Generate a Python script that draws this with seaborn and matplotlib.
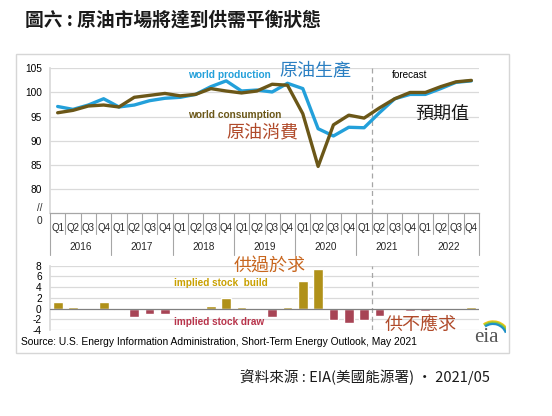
import matplotlib
matplotlib.use("Agg")
import matplotlib.pyplot as plt
import matplotlib.transforms as mtransforms
from matplotlib.patches import Rectangle, Arc
import seaborn as sns
import numpy as np

# quarterly data, 2016Q1 .. 2022Q4 (million barrels per day)
years = ["2016", "2017", "2018", "2019", "2020", "2021", "2022"]
quarters = ["Q1", "Q2", "Q3", "Q4"]
production = [97.1, 96.5, 97.4, 98.7, 97.0, 97.4, 98.3, 98.8,
              99.0, 99.6, 101.2, 102.4, 100.3, 100.5, 100.1, 101.9,
              100.8, 92.5, 91.0, 92.8, 92.7, 95.8, 98.7, 99.6,
              99.6, 100.8, 102.1, 102.4]
consumption = [95.8, 96.3, 97.2, 97.4, 97.0, 99.0, 99.4, 99.8,
               99.3, 99.6, 100.8, 100.3, 99.9, 100.3, 101.7, 101.5,
               95.6, 84.7, 93.3, 95.3, 94.7, 96.8, 98.7, 100.0,
               100.0, 101.2, 102.2, 102.5]
stock_change = [1.2, 0.2, 0.0, 1.2, -0.2, -1.5, -1.1, -1.0,
                -0.3, 0.0, 0.5, 2.0, 0.3, -0.1, -1.6, 0.2,
                5.1, 7.4, -2.2, -2.7, -2.05, -1.4, 0.0, -0.4,
                -0.5, -0.1, 0.0, 0.2]

W, H = 552, 416
sns.set_theme(style="white")
plt.rcParams['font.family'] = ['Liberation Sans', 'Noto Sans CJK TC', 'DejaVu Sans']
CJK = ['Noto Sans CJK TC', 'DejaVu Sans']

BLUE = "#23A0DA"
OLIVE = "#6B5718"
GOLD = "#C9A000"
RED = "#B8334A"
GRID = "#DADADA"
SEP = "#A6A6A6"


def fx(x):
    return x / W


def fy(y):
    return 1 - y / H


fig = plt.figure(figsize=(W / 100, H / 100), dpi=100)
fig.patch.set_facecolor("white")

# outer frame
fig.patches.append(Rectangle((fx(16), fy(353)), fx(509) - fx(16), fy(54) - fy(353),
                             transform=fig.transFigure, fill=False,
                             edgecolor="#D6D6D6", linewidth=1.0))

x_left, x_right = 50, 479
ax1 = fig.add_axes([fx(x_left), fy(213.3), fx(x_right) - fx(x_left), fy(68.3) - fy(213.3)])
ax2 = fig.add_axes([fx(x_left), fy(330), fx(x_right) - fx(x_left), fy(265.7) - fy(330)])

idx = np.arange(len(production))

# ---- top panel: production and consumption
sns.lineplot(x=idx, y=production, color=BLUE, linewidth=2.4, ax=ax1)
sns.lineplot(x=idx, y=consumption, color=OLIVE, linewidth=2.4, ax=ax1)
ax1.set_xlim(-0.5, len(idx) - 0.5)
ax1.set_ylim(75, 105)
ax1.set_yticks([80, 85, 90, 95, 100, 105])
ax1.set_yticklabels(["80", "85", "90", "95", "100", "105"])
for v in [80, 85, 90, 95, 100, 105]:
    ax1.axhline(v, color=GRID, linewidth=0.9, zorder=0)
ax1.axvline(20.5, color=SEP, linewidth=0.9, linestyle=(0, (4, 3)), zorder=1)
ax1.set_xticks([])
for s in ["top", "right"]:
    ax1.spines[s].set_visible(False)
ax1.spines["left"].set_color(GRID)
ax1.spines["bottom"].set_color(SEP)
ax1.spines["bottom"].set_linewidth(0.9)
ax1.tick_params(axis="y", length=0, pad=6, labelsize=7.3, labelcolor="black")
# axis break marks
ytr = mtransforms.blended_transform_factory(ax1.transAxes, ax1.transData)
ax1.text(-0.025, 76.0, "//", transform=ytr, ha="center", va="center", fontsize=7)
ax1.text(-0.025, 73.5, "0", transform=ytr, ha="center", va="center", fontsize=7.3, clip_on=False)

# quarter / year labels under the top axis
xtr = mtransforms.blended_transform_factory(ax1.transData, ax1.transAxes)
for i in idx:
    ax1.text(i, -0.10, quarters[i % 4], transform=xtr, ha="center", va="center",
             fontsize=7, clip_on=False)
for k in range(len(idx) + 1):
    b = k - 0.5
    low = -0.29 if k % 4 == 0 else -0.14
    ax1.plot([b, b], [0, low], transform=xtr, color=SEP, linewidth=0.8, clip_on=False)
for j, yr in enumerate(years):
    ax1.text(4 * j + 1.5, -0.232, yr, transform=xtr, ha="center", va="center",
             fontsize=7.2, clip_on=False)

# ---- bottom panel: implied stock change
colors = [GOLD if v >= 0 else RED for v in stock_change]
sns.barplot(x=idx, y=stock_change, hue=idx, palette=colors, dodge=False,
            width=0.64, legend=False, native_scale=True, ax=ax2, zorder=2)
ax2.set_xlim(-0.5, len(idx) - 0.5)
ax2.set_ylim(-4, 8)
ax2.set_yticks([-4, -2, 0, 2, 4, 6, 8])
ax2.set_yticklabels(["-4", "-2", "0", "2", "4", "6", "8"])
for v in [-4, -2, 2, 4, 6, 8]:
    ax2.axhline(v, color=GRID, linewidth=0.9, zorder=0)
ax2.axhline(0, color="#808080", linewidth=0.9, zorder=3)
ax2.axvline(20.5, color=SEP, linewidth=0.9, linestyle=(0, (4, 3)), zorder=1)
ax2.set_xticks([])
ax2.set_xlabel("")
for s in ["top", "right", "bottom"]:
    ax2.spines[s].set_visible(False)
ax2.spines["left"].set_color(GRID)
ax2.tick_params(axis="y", length=0, pad=6, labelsize=7.3, labelcolor="black")

# ---- annotations
fig.text(fx(25), fy(20), "圖六 : 原油市場將達到供需平衡狀態", family=CJK, fontsize=13.5,
         fontweight="bold", ha="left", va="center", color="#1A1A1A")
fig.text(fx(188), fy(75), "world production", fontsize=7.3, fontweight="bold",
         color=BLUE, ha="left", va="center")
fig.text(fx(315), fy(70), "原油生產", family=CJK, fontsize=13, color="#2A7FC2",
         ha="center", va="center")
fig.text(fx(188), fy(115), "world consumption", fontsize=7.3, fontweight="bold",
         color=OLIVE, ha="left", va="center")
fig.text(fx(262), fy(132), "原油消費", family=CJK, fontsize=13, color="#B04A2A",
         ha="center", va="center")
fig.text(fx(392), fy(75), "forecast", fontsize=7.2, color="black", ha="left", va="center")
fig.text(fx(442), fy(114), "預期值", family=CJK, fontsize=13, color="#1A1A1A",
         ha="center", va="center")
fig.text(fx(270), fy(267), "供過於求", family=CJK, fontsize=13, color="#C8661E",
         ha="center", va="center")
fig.text(fx(174), fy(283), "implied stock  build", fontsize=7.2, fontweight="bold",
         color=GOLD, ha="left", va="center")
fig.text(fx(174), fy(322), "implied stock draw", fontsize=7.2, fontweight="bold",
         color=RED, ha="left", va="center")
fig.text(fx(421), fy(325), "供不應求", family=CJK, fontsize=13, color="#B04A2A",
         ha="center", va="center")
fig.text(fx(21), fy(342), "Source: U.S. Energy Information Administration, Short-Term Energy Outlook, May 2021",
         fontsize=7.4, color="black", ha="left", va="center")
fig.text(fx(240), fy(377), "資料來源 : EIA(美國能源署) · 2021/05", family=CJK, fontsize=10.5,
         color="#1A1A1A", ha="left", va="center")

# eia logo
fig.text(fx(486), fy(337), "eia", family="Liberation Serif", fontsize=15,
         color="#555555", ha="center", va="center")
lax = fig.add_axes([fx(472), fy(345), fx(506) - fx(472), fy(318) - fy(345)])
lax.set_xlim(0, 1)
lax.set_ylim(0, 1)
lax.axis("off")
for r, c in [(0.95, "#F2C511"), (0.88, "#8CC63F"), (0.80, "#1E90C8")]:
    lax.add_patch(Arc((0.62, 0.28), r, r * 1.25, theta1=25, theta2=120, color=c, linewidth=1.6))

fig.savefig("out.png", dpi=100, facecolor="white")
